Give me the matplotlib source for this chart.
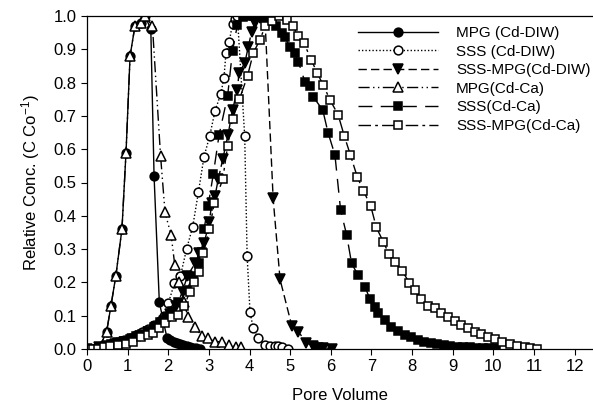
import matplotlib
matplotlib.use('Agg')
import matplotlib.pyplot as plt

plt.rcParams['font.family'] = ['Liberation Sans', 'DejaVu Sans']
plt.rcParams['mathtext.default'] = 'regular'

# MPG (Cd-DIW): gefüllte Kreise, durchgezogene Linie
mpg_diw_x = [0.28, 0.48, 0.59, 0.71, 0.86, 0.96, 1.06, 1.18, 1.32, 1.43, 1.57, 1.65, 1.78,
             1.97, 2.05, 2.13, 2.21, 2.29, 2.37, 2.45, 2.53, 2.61, 2.69, 2.77]
mpg_diw_y = [0.0, 0.05, 0.13, 0.22, 0.36, 0.59, 0.88, 0.97, 0.98, 1.0, 0.96, 0.52, 0.14,
             0.032, 0.027, 0.022, 0.018, 0.014, 0.011, 0.008, 0.006, 0.004, 0.002, 0.001]

# SSS (Cd-DIW): offene Kreise, gepunktet
sss_diw_x = [0.0, 0.14, 0.28, 0.45, 0.6, 0.75, 0.9, 1.05, 1.2, 1.35, 1.5, 1.65, 1.8, 1.9,
             2.0, 2.15, 2.3, 2.45, 2.6, 2.74, 2.88, 3.02, 3.15, 3.29, 3.37, 3.42, 3.5, 3.58,
             3.64, 3.7, 3.88, 3.94, 4.01, 4.09, 4.21, 4.38, 4.5, 4.62, 4.7, 4.8, 4.95]
sss_diw_y = [0.0, 0.0, 0.005, 0.01, 0.015, 0.02, 0.027, 0.034, 0.042, 0.05, 0.06, 0.072, 0.085, 0.1,
             0.137, 0.197, 0.22, 0.3, 0.367, 0.47, 0.578, 0.64, 0.715, 0.765, 0.815, 0.89, 0.923, 0.976,
             0.99, 1.0, 0.64, 0.28, 0.112, 0.062, 0.032, 0.012, 0.01, 0.01, 0.008, 0.005, 0.0]

# SSS-MPG (Cd-DIW): gefüllte Dreiecke (nach unten), gestrichelt
sssmpg_diw_x = [0.0, 0.3, 0.5, 0.7, 0.9, 1.1, 1.3, 1.5, 1.7, 1.9, 2.05, 2.2, 2.35, 2.47,
                2.66, 2.76, 2.88, 3.01, 3.07, 3.15, 3.23, 3.34, 3.47, 3.58, 3.7, 3.74, 3.88,
                3.97, 4.05, 4.13, 4.25, 4.38, 4.58, 4.75, 5.04, 5.2, 5.4, 5.57, 5.68, 5.8, 6.02]
sssmpg_diw_y = [0.0, 0.005, 0.01, 0.015, 0.022, 0.03, 0.04, 0.05, 0.065, 0.085, 0.105, 0.13, 0.172, 0.22,
                0.257, 0.287, 0.317, 0.382, 0.437, 0.46, 0.51, 0.57, 0.643, 0.718, 0.778, 0.83, 0.858,
                0.908, 0.953, 0.98, 0.993, 0.99, 0.452, 0.209, 0.069, 0.052, 0.019, 0.008, 0.003, 0.004, 0.001]

# MPG (Cd-Ca): offene Dreiecke, Strich-Punkt-Punkt
mpg_ca_x = [0.28, 0.48, 0.59, 0.71, 0.86, 0.96, 1.06, 1.18, 1.32, 1.43, 1.61, 1.81, 1.92,
            2.07, 2.16, 2.27, 2.38, 2.49, 2.66, 2.82, 2.98, 3.15, 3.31, 3.5, 3.66, 3.8]
mpg_ca_y = [0.0, 0.05, 0.13, 0.22, 0.36, 0.59, 0.88, 0.97, 0.98, 1.0, 0.97, 0.58, 0.41,
            0.342, 0.252, 0.2, 0.14, 0.095, 0.067, 0.039, 0.032, 0.022, 0.022, 0.012, 0.007, 0.005]

# SSS (Cd-Ca): gefüllte Quadrate, lange Striche
sss_ca_x = [0.15, 0.3, 0.45, 0.6, 0.75, 0.9, 1.05, 1.2, 1.35, 1.5, 1.65, 1.8, 1.95, 2.1,
            2.25, 2.45, 2.62, 2.76, 2.82, 2.88, 2.98, 3.11, 3.25, 3.46, 3.58, 3.7, 3.84, 3.97,
            4.12, 4.29, 4.42, 4.54, 4.66, 4.79, 4.87, 4.99, 5.11, 5.2, 5.36, 5.48, 5.56, 5.8,
            5.93, 6.1, 6.24, 6.39, 6.51, 6.67, 6.84, 6.96, 7.08, 7.16, 7.33, 7.49, 7.66, 7.82,
            7.98, 8.14, 8.3, 8.46, 8.62, 8.78, 8.94, 9.1, 9.26, 9.42, 9.58, 9.74, 9.9, 10.06]
sss_ca_y = [0.0, 0.005, 0.01, 0.015, 0.02, 0.025, 0.03, 0.038, 0.046, 0.055, 0.066, 0.08, 0.095, 0.115,
            0.14, 0.177, 0.22, 0.257, 0.29, 0.36, 0.43, 0.527, 0.643, 0.76, 0.895, 0.973, 0.996, 1.0,
            1.0, 0.998, 0.99, 0.985, 0.97, 0.948, 0.936, 0.908, 0.888, 0.863, 0.803, 0.79, 0.758, 0.718,
            0.65, 0.583, 0.417, 0.342, 0.257, 0.222, 0.187, 0.15, 0.127, 0.107, 0.087, 0.067, 0.054, 0.042,
            0.035, 0.028, 0.022, 0.018, 0.014, 0.011, 0.009, 0.007, 0.006, 0.005, 0.004, 0.003, 0.003, 0.002]

# SSS-MPG (Cd-Ca): offene Quadrate, Strich-Punkt
sssmpg_ca_x = [0.0, 0.14, 0.28, 0.43, 0.57, 0.77, 0.96, 1.14, 1.34, 1.51, 1.63, 1.78, 1.93, 2.08,
               2.25, 2.39, 2.53, 2.64, 2.76, 2.86, 3.01, 3.13, 3.34, 3.46, 3.58, 3.75, 3.95, 4.09,
               4.25, 4.39, 4.56, 4.72, 4.91, 5.06, 5.2, 5.34, 5.52, 5.66, 5.81, 5.98, 6.18, 6.33,
               6.48, 6.65, 6.8, 6.98, 7.12, 7.29, 7.43, 7.57, 7.76, 7.93, 8.06, 8.23, 8.39, 8.56,
               8.72, 8.88, 9.05, 9.21, 9.37, 9.54, 9.7, 9.87, 10.03, 10.2, 10.4, 10.57, 10.77, 10.91,
               11.06]
sssmpg_ca_y = [0.0, 0.0, 0.0, 0.005, 0.01, 0.012, 0.015, 0.022, 0.035, 0.042, 0.049, 0.062, 0.077, 0.095,
               0.102, 0.129, 0.172, 0.2, 0.232, 0.289, 0.359, 0.437, 0.51, 0.61, 0.69, 0.75, 0.82, 0.888,
               0.928, 0.97, 0.986, 1.0, 0.988, 0.97, 0.94, 0.918, 0.868, 0.83, 0.793, 0.748, 0.703, 0.64,
               0.583, 0.517, 0.475, 0.43, 0.365, 0.322, 0.285, 0.26, 0.234, 0.199, 0.177, 0.149, 0.129, 0.122,
               0.107, 0.097, 0.085, 0.072, 0.062, 0.052, 0.045, 0.037, 0.029, 0.022, 0.015, 0.009, 0.005, 0.003,
               0.0]

x_ticks = list(range(0, 13))
y_ticks = [i / 10 for i in range(0, 11)]


def main() -> None:
    fig = plt.figure(figsize=(5.93, 4.05), dpi=100)
    ax = fig.add_axes([87 / 593, 56 / 405, 1 - 87 / 593, 333 / 405])

    ms = 6.3
    mew = 1.1
    ax.plot(mpg_diw_x, mpg_diw_y, color='k', lw=1, ls='-', marker='o', ms=ms, mew=mew,
            mfc='k', mec='k', label='MPG (Cd-DIW)')
    ax.plot(sss_diw_x, sss_diw_y, color='k', lw=1, ls=(0, (1, 1.5)), marker='o', ms=ms, mew=mew,
            mfc='white', mec='k', label='SSS (Cd-DIW)')
    ax.plot(sssmpg_diw_x, sssmpg_diw_y, color='k', lw=1, ls=(0, (6, 3)), marker='v', ms=ms + 1, mew=mew,
            mfc='k', mec='k', label='SSS-MPG(Cd-DIW)')
    ax.plot(mpg_ca_x, mpg_ca_y, color='k', lw=1, ls=(0, (8, 2.5, 1, 2.5, 1, 2.5)), marker='^', ms=ms + 1,
            mew=mew, mfc='white', mec='k', label='MPG(Cd-Ca)')
    ax.plot(sss_ca_x, sss_ca_y, color='k', lw=1, ls=(0, (10, 6)), marker='s', ms=ms - 0.5, mew=mew,
            mfc='k', mec='k', label='SSS(Cd-Ca)')
    ax.plot(sssmpg_ca_x, sssmpg_ca_y, color='k', lw=1, ls=(0, (9, 3, 2, 3)), marker='s', ms=ms - 0.5,
            mew=mew, mfc='white', mec='k', label='SSS-MPG(Cd-Ca)')

    ax.set_xlim(0, 12.45)
    ax.set_ylim(0, 1.0)
    ax.set_xticks(x_ticks)
    ax.set_yticks(y_ticks)
    ax.set_yticklabels([f'{v:.1f}' for v in y_ticks])
    ax.tick_params(direction='out', length=4, width=0.8, labelsize=12, colors='k')
    ax.spines['right'].set_visible(False)
    for s in ('left', 'bottom', 'top'):
        ax.spines[s].set_linewidth(0.9)

    ax.set_xlabel('Pore Volume', fontsize=12, labelpad=10)
    ax.set_ylabel('Relative Conc. (C Co$^{-1}$)', fontsize=12, labelpad=8)

    # Legende oben rechts, ohne Rahmen (Schrift etwas kleiner, damit sie ins Bild passt)
    ax.legend(loc='upper left', bbox_to_anchor=(0.536, 0.97), frameon=False, fontsize=11,
              handlelength=5.2, handletextpad=1.2, labelspacing=0.3, borderpad=0,
              borderaxespad=0, numpoints=1)

    fig.savefig('out.png', dpi=100)


if __name__ == '__main__':
    main()
